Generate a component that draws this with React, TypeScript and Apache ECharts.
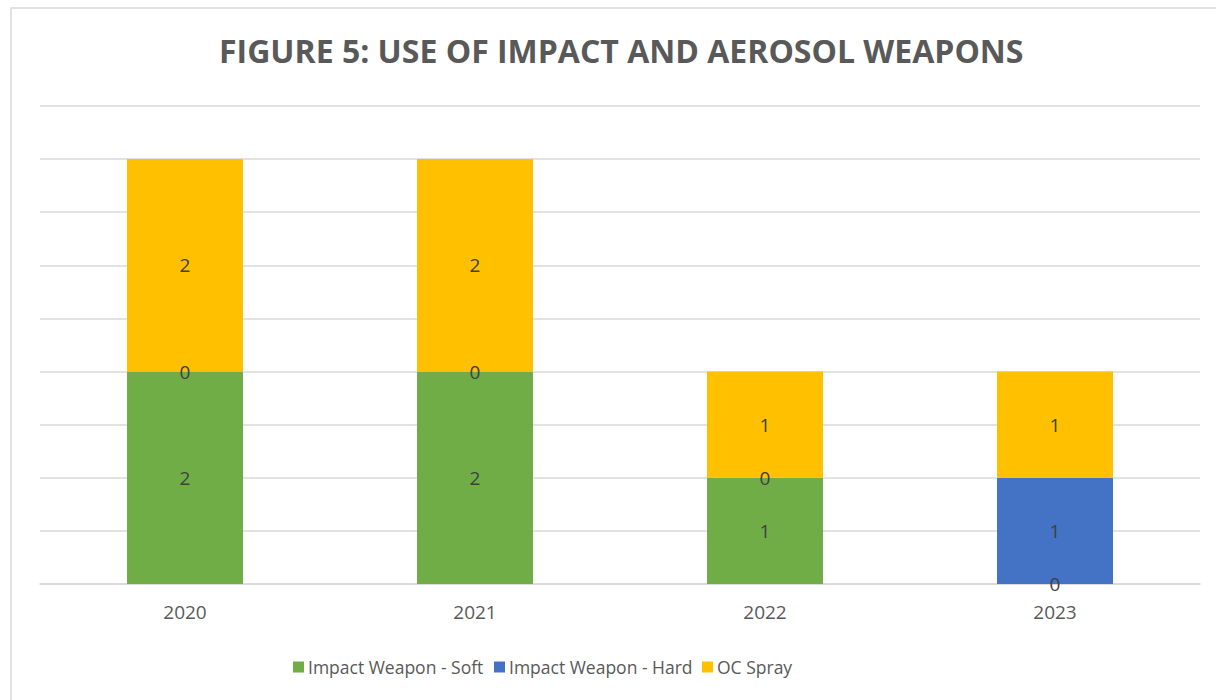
import React, { useEffect, useRef } from "react";
import * as echarts from "echarts";

const years = ["2020", "2021", "2022", "2023"];
const softValues = [2, 2, 1, 0];
const hardValues = [0, 0, 0, 1];
const ocSprayValues = [2, 2, 1, 1];
const seriesNames = ["Impact Weapon - Soft", "Impact Weapon - Hard", "OC Spray"];

const FONT = "'Open Sans', 'Noto Sans', sans-serif";

export default function App() {
  const ref = useRef<HTMLDivElement>(null);

  useEffect(() => {
    if (!ref.current) return;
    const chart = echarts.init(ref.current, null, { renderer: "svg" });

    const label = {
      show: true,
      position: "inside" as const,
      color: "#404040",
      fontSize: 19,
      fontFamily: FONT,
    };

    const makeSeries = (name: string, data: number[], color: string) => ({
      name,
      type: "bar" as const,
      stack: "total",
      data,
      barWidth: "40%",
      itemStyle: { color },
      label,
    });

    // one legend per entry so each item sits at its own x position
    const legendLefts = [288, 489, 697];
    const legends = seriesNames.map((name, i) => ({
      bottom: 19,
      left: legendLefts[i],
      icon: "rect",
      itemWidth: 11,
      itemHeight: 11,
      itemGap: 0,
      textStyle: {
        color: "#595959",
        fontSize: 17.5,
        fontFamily: FONT,
        padding: [0, 0, 0, -1],
      },
      data: [name],
    }));

    chart.setOption({
      animation: false,
      backgroundColor: "#ffffff",
      title: {
        text: "FIGURE 5: USE OF IMPACT AND AEROSOL WEAPONS",
        left: 214,
        top: 29,
        textStyle: {
          color: "#595959",
          fontSize: 32,
          fontWeight: "bold",
          fontFamily: FONT,
        },
      },
      graphic: [
        {
          type: "rect",
          shape: { x: 11, y: 8, width: 1230, height: 720 },
          style: { fill: "none", stroke: "#d9d9d9", lineWidth: 1.5 },
          silent: true,
        },
      ],
      legend: legends,
      grid: { left: 40, right: 16, top: 106, bottom: 116 },
      xAxis: {
        type: "category",
        data: years,
        axisTick: { show: false },
        axisLine: { lineStyle: { color: "#d9d9d9", width: 1.5 } },
        axisLabel: { color: "#595959", fontSize: 19, fontFamily: FONT, margin: 18 },
      },
      yAxis: {
        type: "value",
        min: 0,
        max: 4.5,
        interval: 0.5,
        axisLabel: { show: false },
        axisLine: { show: false },
        axisTick: { show: false },
        splitLine: { lineStyle: { color: "#d9d9d9", width: 1.5 } },
      },
      series: [
        makeSeries(seriesNames[0], softValues, "#70ad47"),
        makeSeries(seriesNames[1], hardValues, "#4472c4"),
        makeSeries(seriesNames[2], ocSprayValues, "#ffc000"),
      ],
    });

    return () => chart.dispose();
  }, []);

  return (
    <div
      ref={ref}
      style={{ position: "fixed", left: 0, top: 0, width: 1216, height: 700 }}
    />
  );
}
